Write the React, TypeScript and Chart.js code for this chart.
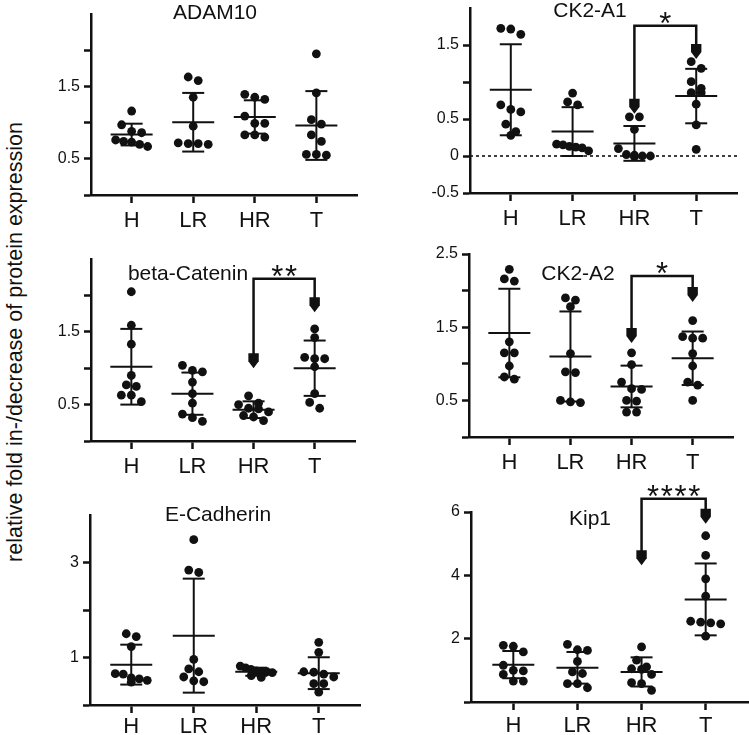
import React, { useEffect, useRef } from 'react';
import { Chart, registerables } from 'chart.js';

Chart.register(...registerables);

const categories = ['H', 'LR', 'HR', 'T'];

// ADAM10
const adam10Values = [
  [1.16, 0.97, 0.88, 0.86, 0.76, 0.74, 0.73, 0.70, 0.67],
  [1.63, 1.58, 1.35, 0.95, 0.72, 0.71, 0.71, 0.70],
  [1.39, 1.35, 1.32, 1.09, 0.99, 0.99, 0.83, 0.83, 0.80],
  [1.95, 1.41, 1.04, 0.98, 0.83, 0.74, 0.56, 0.56, 0.55],
];
const adam10Mean = [0.835, 1.005, 1.078, 0.96];
const adam10SD = [0.15, 0.405, 0.23, 0.475];
const adam10Ticks = [0, 0.5, 1, 1.5, 2];
const adam10Labels = [0.5, 1.5];

// CK2-A1
const ck2a1Values = [
  [1.725, 1.716, 1.644, 0.69, 0.63, 0.595, 0.43, 0.33, 0.28],
  [0.85, 0.73, 0.69, 0.16, 0.15, 0.13, 0.12, 0.11, 0.07],
  [0.53, 0.53, 0.36, 0.10, 0.02, 0.01, 0.0, 0.0, -0.01],
  [1.275, 1.185, 1.005, 0.914, 0.856, 0.856, 0.70, 0.42, 0.09],
];
const ck2a1Mean = [0.895, 0.33, 0.17, 0.81];
const ck2a1SD = [0.615, 0.33, 0.235, 0.368];
const ck2a1Ticks = [-0.5, 0, 0.5, 1, 1.5];
const ck2a1Labels = [-0.5, 0, 0.5, 1.5];

// beta-Catenin
const betaCatValues = [
  [2.05, 1.59, 1.33, 0.90, 0.77, 0.75, 0.63, 0.63, 0.54],
  [1.04, 0.97, 0.95, 0.81, 0.65, 0.52, 0.37, 0.32, 0.27],
  [0.62, 0.52, 0.50, 0.45, 0.44, 0.40, 0.35, 0.33, 0.28],
  [1.54, 1.42, 1.15, 1.13, 1.13, 1.02, 0.65, 0.53, 0.45],
];
const betaCatMean = [1.02, 0.65, 0.43, 1.0];
const betaCatSD = [0.52, 0.29, 0.115, 0.38];
const betaCatTicks = [0, 0.5, 1, 1.5, 2];
const betaCatLabels = [0.5, 1.5];

// CK2-A2
const ck2a2Values = [
  [2.29, 2.16, 2.13, 1.30, 1.15, 1.15, 0.97, 0.82, 0.79],
  [1.90, 1.87, 1.78, 1.14, 0.89, 0.88, 0.50, 0.48, 0.47],
  [1.15, 0.99, 0.75, 0.66, 0.65, 0.50, 0.49, 0.34, 0.34],
  [1.59, 1.37, 1.35, 1.35, 1.14, 0.97, 0.75, 0.71, 0.50],
];
const ck2a2Mean = [1.42, 1.10, 0.69, 1.076];
const ck2a2SD = [0.605, 0.615, 0.285, 0.365];
const ck2a2Ticks = [0, 0.5, 1, 1.5, 2, 2.5];
const ck2a2Labels = [0.5, 1.5, 2.5];

// E-Cadherin
const eCadValues = [
  [1.50, 1.44, 1.23, 0.66, 0.65, 0.57, 0.55, 0.52, 0.48],
  [3.48, 2.84, 2.79, 0.96, 0.76, 0.70, 0.59, 0.51, 0.49],
  [0.82, 0.78, 0.75, 0.72, 0.70, 0.70, 0.68, 0.62, 0.58],
  [1.32, 1.11, 0.70, 0.69, 0.65, 0.59, 0.45, 0.45, 0.27],
];
const eCadMean = [0.85, 1.46, 0.70, 0.67];
const eCadSD = [0.42, 1.2, 0.085, 0.335];
const eCadTicks = [0, 1, 2, 3];
const eCadLabels = [1, 3];

// Kip1
const kip1Values = [
  [1.79, 1.76, 1.58, 1.16, 1.0, 0.98, 0.87, 0.66, 0.66],
  [1.82, 1.65, 1.63, 1.28, 0.95, 0.90, 0.58, 0.58, 0.45],
  [1.74, 1.32, 1.11, 1.05, 1.03, 0.87, 0.61, 0.58, 0.37],
  [5.25, 4.63, 3.89, 3.34, 2.55, 2.52, 2.50, 2.47, 2.08],
];
const kip1Mean = [1.18, 1.08, 0.95, 3.24];
const kip1SD = [0.43, 0.5, 0.46, 1.135];
const kip1Ticks = [0, 2, 4, 6];
const kip1Labels = [2, 4, 6];

const FONT = '"Liberation Sans", Arial, Helvetica, sans-serif';
const INK = '#111111';

type Sig = { from: number; to: number; top: number; tipFrom: number; tipTo: number; label: string };
type PanelCfg = {
  title: string;
  values: number[][];
  mean: number[];
  sd: number[];
  yMin: number;
  yMax: number;
  ticks: number[];
  labels: number[];
  axisX: number;
  top: number;
  bottom: number;
  right: number;
  titleDx: number;
  titleDy: number;
  xPad: number;
  sig?: Sig;
  zeroLine?: boolean;
};

const panels: PanelCfg[] = [
  {
    title: 'ADAM10', values: adam10Values, mean: adam10Mean, sd: adam10SD,
    yMin: 0, yMax: 2.5, ticks: adam10Ticks, labels: adam10Labels,
    axisX: 91, top: 14, bottom: 195, right: 357, titleDx: 124, titleDy: -3, xPad: 5,
  },
  {
    title: 'CK2-A1', values: ck2a1Values, mean: ck2a1Mean, sd: ck2a1SD,
    yMin: -0.5, yMax: 2.0, ticks: ck2a1Ticks, labels: ck2a1Labels,
    axisX: 470, top: 8, bottom: 193, right: 737, titleDx: 120, titleDy: 1, xPad: 5,
    sig: { from: 2, to: 3, top: 1.76, tipFrom: 0.57, tipTo: 1.31, label: '*' },
    zeroLine: true,
  },
  {
    title: 'beta-Catenin', values: betaCatValues, mean: betaCatMean, sd: betaCatSD,
    yMin: 0, yMax: 2.5, ticks: betaCatTicks, labels: betaCatLabels,
    axisX: 91, top: 259, bottom: 441, right: 355, titleDx: 97, titleDy: 13, xPad: 5,
    sig: { from: 2, to: 3, top: 2.23, tipFrom: 1.0, tipTo: 1.77, label: '**' },
  },
  {
    title: 'CK2-A2', values: ck2a2Values, mean: ck2a2Mean, sd: ck2a2SD,
    yMin: 0, yMax: 2.5, ticks: ck2a2Ticks, labels: ck2a2Labels,
    axisX: 469, top: 254, bottom: 437, right: 733, titleDx: 109, titleDy: 18, xPad: 5,
    sig: { from: 2, to: 3, top: 2.2, tipFrom: 1.285, tipTo: 1.845, label: '*' },
  },
  {
    title: 'E-Cadherin', values: eCadValues, mean: eCadMean, sd: eCadSD,
    yMin: 0, yMax: 4, ticks: eCadTicks, labels: eCadLabels,
    axisX: 90, top: 515, bottom: 705, right: 360, titleDx: 128, titleDy: -2, xPad: 1,
  },
  {
    title: 'Kip1', values: kip1Values, mean: kip1Mean, sd: kip1SD,
    yMin: 0, yMax: 6, ticks: kip1Ticks, labels: kip1Labels,
    axisX: 471, top: 512, bottom: 702, right: 748, titleDx: 119, titleDy: 5, xPad: 3,
    sig: { from: 2, to: 3, top: 6.42, tipFrom: 4.32, tipTo: 5.63, label: '****' },
  },
];

const PAD_TOP = 38;
const PAD_RIGHT = 10;
const Y_W = 60;
const X_H = 40;
const X_MIN = -0.66;
const X_MAX = 3.66;

// spread points horizontally (pixel offsets) like a column scatter
function swarm(py: number[], d: number, maxHalf: number): number[] {
  const idx = py.map((_, i) => i).sort((a, b) => py[a] - py[b]);
  const out = new Array(py.length).fill(0);
  let k = 0;
  while (k < idx.length) {
    const start = py[idx[k]];
    const cluster = [idx[k]];
    k++;
    while (k < idx.length && py[idx[k]] - start < d * 0.8) {
      cluster.push(idx[k]);
      k++;
    }
    const n = cluster.length;
    const step = n > 1 ? Math.min(d, (2 * maxHalf) / (n - 1)) : 0;
    cluster.forEach((pi, j) => {
      out[pi] = (j - (n - 1) / 2) * step;
    });
  }
  return out;
}

function Panel({ cfg }: { cfg: PanelCfg }) {
  const ref = useRef<HTMLCanvasElement | null>(null);
  const width = cfg.right - cfg.axisX + Y_W + PAD_RIGHT;
  const height = cfg.bottom - cfg.top + PAD_TOP + X_H;

  useEffect(() => {
    const canvas = ref.current;
    if (!canvas) return;

    const decor = {
      id: 'decor',
      beforeDatasetsDraw(chart: any) {
        if (!cfg.zeroLine) return;
        const { ctx, chartArea } = chart;
        const y0 = chart.scales.y.getPixelForValue(0);
        ctx.save();
        ctx.strokeStyle = INK;
        ctx.lineWidth = 1.6;
        ctx.setLineDash([3, 3]);
        ctx.beginPath();
        ctx.moveTo(chartArea.left, y0);
        ctx.lineTo(chartArea.right, y0);
        ctx.stroke();
        ctx.restore();
      },
      afterDatasetsDraw(chart: any) {
        const { ctx, chartArea } = chart;
        const xs = chart.scales.x;
        const ys = chart.scales.y;
        ctx.save();
        ctx.strokeStyle = INK;
        ctx.fillStyle = INK;
        ctx.lineWidth = 2;
        const seg = (x1: number, y1: number, x2: number, y2: number) => {
          ctx.beginPath();
          ctx.moveTo(x1, y1);
          ctx.lineTo(x2, y2);
          ctx.stroke();
        };
        cfg.mean.forEach((m, i) => {
          const cx = xs.getPixelForValue(i);
          const ym = ys.getPixelForValue(m);
          const yt = ys.getPixelForValue(m + cfg.sd[i]);
          const yb = ys.getPixelForValue(m - cfg.sd[i]);
          seg(cx - 21, ym, cx + 21, ym);
          seg(cx, yt, cx, yb);
          seg(cx - 11, yt, cx + 11, yt);
          seg(cx - 11, yb, cx + 11, yb);
        });

        // title
        ctx.font = `21px ${FONT}`;
        ctx.textAlign = 'center';
        ctx.textBaseline = 'alphabetic';
        ctx.fillText(cfg.title, chartArea.left + cfg.titleDx, chartArea.top + cfg.titleDy + 7.5);

        // significance bracket
        if (cfg.sig) {
          const s = cfg.sig;
          const x1 = xs.getPixelForValue(s.from);
          const x2 = xs.getPixelForValue(s.to);
          const yTop = ys.getPixelForValue(s.top);
          const t1 = ys.getPixelForValue(s.tipFrom);
          const t2 = ys.getPixelForValue(s.tipTo);
          ctx.lineWidth = 2.5;
          ctx.lineJoin = 'miter';
          ctx.beginPath();
          ctx.moveTo(x1, t1 - 10);
          ctx.lineTo(x1, yTop);
          ctx.lineTo(x2, yTop);
          ctx.lineTo(x2, t2 - 10);
          ctx.stroke();
          const head = (x: number, t: number) => {
            ctx.beginPath();
            ctx.moveTo(x - 5.2, t - 15);
            ctx.lineTo(x + 5.2, t - 15);
            ctx.lineTo(x + 5.2, t - 7);
            ctx.lineTo(x, t);
            ctx.lineTo(x - 5.2, t - 7);
            ctx.closePath();
            ctx.fill();
          };
          head(x1, t1);
          head(x2, t2);
          const n = s.label.length;
          const mid = (x1 + x2) / 2;
          const size = 31;
          ctx.font = `${size}px ${FONT}`;
          ctx.textAlign = 'center';
          for (let k = 0; k < n; k++) {
            const sx = mid + (k - (n - 1) / 2) * 13.8;
            ctx.fillText('*', sx, yTop - 10 + 0.585 * size);
          }
        }
        ctx.restore();
      },
    };

    const gridCommon = {
      drawOnChartArea: false,
      drawTicks: true,
      tickLength: 7,
      tickWidth: 2.5,
      tickColor: INK,
    };

    const chart = new Chart(canvas, {
      type: 'scatter',
      data: {
        datasets: [
          {
            data: [],
            pointRadius: 4.4,
            pointHoverRadius: 4.4,
            pointBackgroundColor: INK,
            pointBorderWidth: 0,
            clip: false as any,
          },
        ],
      },
      options: {
        responsive: false,
        animation: false,
        events: [],
        layout: { padding: { top: PAD_TOP, right: PAD_RIGHT, left: 0, bottom: 0 } },
        plugins: { legend: { display: false }, tooltip: { enabled: false } },
        scales: {
          x: {
            type: 'linear',
            min: X_MIN,
            max: X_MAX,
            afterBuildTicks: (s: any) => {
              s.ticks = categories.map((_, i) => ({ value: i }));
            },
            afterFit: (s: any) => {
              s.height = X_H;
            },
            ticks: {
              autoSkip: false,
              maxRotation: 0,
              padding: cfg.xPad,
              color: INK,
              font: { family: FONT, size: 22 },
              callback: (v: any) => categories[Math.round(Number(v))] ?? '',
            },
            grid: { ...gridCommon, tickLength: 8 },
            border: { display: true, width: 2.5, color: INK },
          },
          y: {
            type: 'linear',
            min: cfg.yMin,
            max: cfg.yMax,
            afterBuildTicks: (s: any) => {
              s.ticks = cfg.ticks.map((v) => ({ value: v }));
            },
            afterFit: (s: any) => {
              s.width = Y_W;
            },
            ticks: {
              autoSkip: false,
              padding: 4,
              color: INK,
              font: { family: FONT, size: 16 },
              callback: (v: any) => (cfg.labels.includes(Number(v)) ? String(v) : ''),
            },
            grid: gridCommon,
            border: { display: true, width: 2.5, color: INK },
          },
        },
      },
      plugins: [decor],
    } as any);

    const xs: any = chart.scales.x;
    const ys: any = chart.scales.y;
    const pxPerX = xs.getPixelForValue(1) - xs.getPixelForValue(0);
    const pts: { x: number; y: number }[] = [];
    cfg.values.forEach((arr, gi) => {
      const py = arr.map((v) => ys.getPixelForValue(v));
      const offs = swarm(py, 10, 16);
      arr.forEach((v, k) => pts.push({ x: gi + offs[k] / pxPerX, y: v }));
    });
    chart.data.datasets[0].data = pts as any;
    chart.update('none');

    return () => chart.destroy();
  }, [cfg]);

  return (
    <canvas
      ref={ref}
      width={width}
      height={height}
      style={{
        position: 'absolute',
        left: cfg.axisX - Y_W,
        top: cfg.top - PAD_TOP,
        width,
        height,
      }}
    />
  );
}

export default function App() {
  return (
    <div
      style={{
        position: 'fixed',
        left: 0,
        top: 0,
        width: 749,
        height: 735,
        overflow: 'hidden',
        background: '#ffffff',
      }}
    >
      <div
        style={{
          position: 'absolute',
          left: 15 - 280,
          top: 342 - 13,
          width: 560,
          height: 26,
          lineHeight: '26px',
          textAlign: 'center',
          whiteSpace: 'nowrap',
          transform: 'rotate(-90deg)',
          fontFamily: FONT,
          fontSize: 21.5,
          color: INK,
        }}
      >
        relative fold in-/decrease of protein expression
      </div>
      {panels.map((p) => (
        <Panel key={p.title} cfg={p} />
      ))}
    </div>
  );
}
